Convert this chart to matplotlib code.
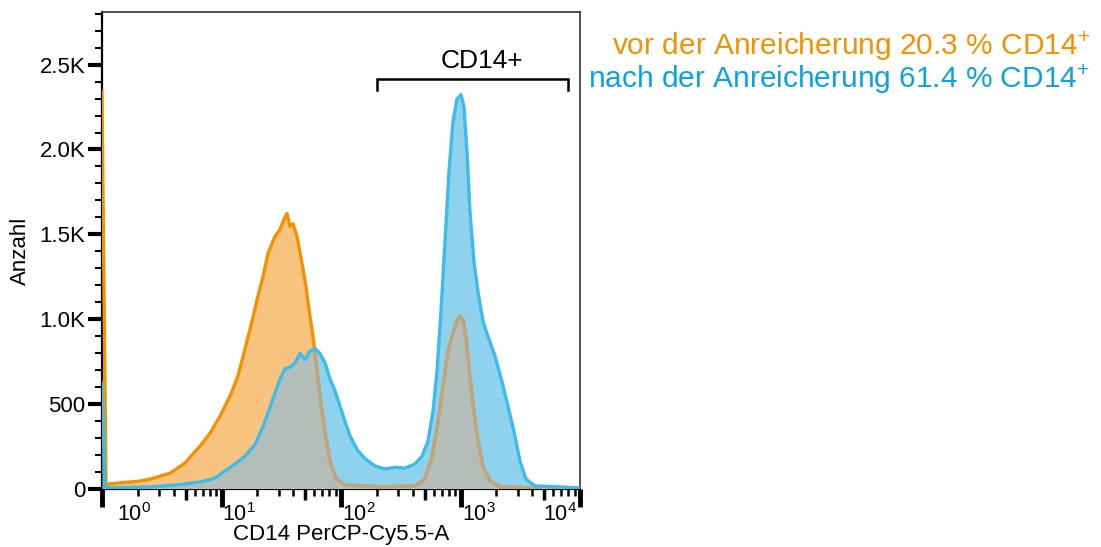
import numpy as np
import matplotlib
matplotlib.use("Agg")
import matplotlib.pyplot as plt
import matplotlib.ticker as mticker
from matplotlib.transforms import ScaledTranslation

plt.rcParams['font.family'] = ['Liberation Sans', 'DejaVu Sans']
plt.rcParams['mathtext.fontset'] = 'custom'
plt.rcParams['mathtext.rm'] = 'Liberation Sans'
plt.rcParams['mathtext.it'] = 'Liberation Sans:italic'
plt.rcParams['mathtext.bf'] = 'Liberation Sans:bold'

# ---------------- data ----------------
before_x = [1.0, 1.08, 1.5, 2.0, 2.52, 3.71, 4.95, 6.61, 8.01, 9.71,
            11.8, 13.7, 15.7, 18.0, 20.2, 22.3, 24.5, 28.0, 30.9, 33.3,
            35.3, 37.4, 39.6, 42.8, 47.2, 50.9, 55.0, 58.3, 61.8, 66.7,
            73.5, 80.9, 90.8, 108, 212, 416, 504, 578, 649, 714,
            786, 849, 917, 990, 1050, 1112, 1200, 1297, 1400, 1542,
            1766, 2143, 4624, 10000]
before_y = [2340, 28, 38, 45, 58, 93, 153, 253, 328, 428,
            548, 663, 823, 988, 1138, 1253, 1388, 1488, 1528, 1588,
            1623, 1548, 1563, 1488, 1328, 1193, 1018, 898, 753, 548,
            338, 163, 63, 23, 13, 18, 58, 193, 398, 608,
            813, 898, 978, 1018, 998, 898, 663, 458, 283, 133,
            48, 13, 5, 5]

after_x = [1.0, 1.06, 1.41, 2.52, 4.08, 6.61, 8.82, 10.7, 13.0, 15.7,
           19.1, 21.8, 24.5, 27.5, 30.9, 34.0, 37.4, 41.2, 45.4, 50.0,
           55.0, 60.6, 66.7, 73.5, 80.9, 89.1, 98.1, 108, 119, 136,
           159, 193, 233, 283, 343, 416, 476, 535, 589, 636,
           687, 742, 801, 865, 935, 1009, 1069, 1133, 1200, 1297,
           1400, 1542, 1698, 1945, 2224, 2496, 2803, 3147, 3533, 4199,
           6807, 10000]
after_y = [625, 8, 8, 12, 23, 41, 64, 106, 148, 193,
           263, 353, 448, 548, 648, 708, 718, 743, 798, 763,
           813, 828, 798, 743, 648, 578, 488, 398, 313, 233,
           178, 135, 118, 128, 123, 148, 193, 283, 458, 693,
           1048, 1458, 1868, 2163, 2298, 2323, 2253, 1988, 1633, 1338,
           1163, 988, 898, 783, 633, 488, 338, 163, 58, 18,
           12, 6]

x_ticks = [1, 10, 100, 1000, 10000]
x_tick_labels = ['$10^{0}$', '$10^{1}$', '$10^{2}$', '$10^{3}$', '$10^{4}$']
x_mid_ticks = [5, 50, 500, 5000]
x_minor_ticks = [m * d for d in [1, 10, 100, 1000] for m in [2, 3, 4, 6, 7, 8, 9]]
y_ticks = [0, 500, 1000, 1500, 2000, 2500]
y_tick_labels = ['0', '500', '1.0K', '1.5K', '2.0K', '2.5K']
gate_range = [200, 8000]
gate_label = 'CD14+'
legend_labels = ['vor der Anreicherung 20.3 % CD14$^{+}$',
                 'nach der Anreicherung 61.4 % CD14$^{+}$']
x_label = 'CD14 PerCP-Cy5.5-A'
y_label = 'Anzahl'

# ---------------- style ----------------
orange_line = '#F39200'
orange_fill = '#F7C480'
blue_line = '#3DBBEA'
blue_fill = '#8FD2EE'
overlap_fill = '#B3BEB9'
tan_line = '#BCA683'
orange_text = '#F39200'
blue_text = '#0FA0E0'

fig = plt.figure(figsize=(11.01, 5.47), dpi=100)
ax = fig.add_axes([102 / 1101, 1 - 489 / 547, 478 / 1101, 477 / 547])

ax.set_xscale('log')
ax.set_xlim(1, 1e4)
ax.set_ylim(0, 2810)

ax.fill_between(before_x, 0, before_y, color=orange_fill, lw=0, zorder=1)
blue_poly = ax.fill_between(after_x, 0, after_y, color=blue_fill, lw=0, zorder=2)
clip_path = blue_poly.get_paths()[0]
ov = ax.fill_between(before_x, 0, before_y, color=overlap_fill, lw=0, zorder=3)
ov.set_clip_path(clip_path, ax.transData)

ax.plot(before_x, before_y, color=orange_line, lw=2.4, zorder=4,
        solid_joinstyle='round')
tan = ax.plot(before_x, before_y, color=tan_line, lw=2.4, zorder=5,
              solid_joinstyle='round')[0]
tan.set_clip_path(clip_path, ax.transData)
ax.plot(after_x, after_y, color=blue_line, lw=2.4, zorder=6,
        solid_joinstyle='round')

# gate bracket
gy_top, gy_bot = 2418, 2353
ax.plot([gate_range[0], gate_range[0], gate_range[1], gate_range[1]],
        [gy_bot, gy_top, gy_top, gy_bot], color='black', lw=1.8,
        zorder=7, solid_joinstyle='miter')
ax.text(np.sqrt(gate_range[0] * gate_range[1]) * 1.2, 2478, gate_label,
        ha='center', va='baseline', fontsize=19, color='black')

# axes ticks
ax.xaxis.set_major_locator(mticker.FixedLocator(x_ticks))
ax.xaxis.set_major_formatter(mticker.FixedFormatter(x_tick_labels))
ax.xaxis.set_minor_locator(mticker.FixedLocator(x_minor_ticks))
ax.xaxis.set_minor_formatter(mticker.NullFormatter())
ax.tick_params(axis='x', which='major', length=13, width=3.5,
               labelsize=15.5, pad=-3, color='black')
ax.tick_params(axis='x', which='minor', length=5, width=1.8, color='black')

offsets_px = [32, 17, 18, 18, -20]
for tick, dx in zip(ax.xaxis.get_major_ticks(), offsets_px):
    tick.label1.set_transform(tick.label1.get_transform() +
                              ScaledTranslation(dx / 100, 0, fig.dpi_scale_trans))

ax.set_yticks(y_ticks)
ax.set_yticklabels(y_tick_labels)
ax.yaxis.set_minor_locator(mticker.MultipleLocator(100))
ax.tick_params(axis='y', which='major', length=10, width=3, labelsize=16,
               pad=2, color='black')
ax.tick_params(axis='y', which='minor', length=5, width=1.5, color='black')

# mid ticks at 5 x 10^n
ax2 = ax.twiny()
ax2.set_xscale('log')
ax2.set_xlim(ax.get_xlim())
ax2.xaxis.tick_bottom()
ax2.xaxis.set_major_locator(mticker.FixedLocator(x_mid_ticks))
ax2.xaxis.set_major_formatter(mticker.NullFormatter())
ax2.xaxis.set_minor_locator(mticker.NullLocator())
ax2.tick_params(axis='x', which='major', length=8, width=2.5, color='black')
for s in ax2.spines.values():
    s.set_visible(False)

for side in ['left', 'bottom']:
    ax.spines[side].set_linewidth(1.6)
    ax.spines[side].set_color('black')
for side in ['top', 'right']:
    ax.spines[side].set_linewidth(1.2)
    ax.spines[side].set_color('#333333')

ax.set_xlabel(x_label, fontsize=16, labelpad=-1)
ax.set_ylabel(y_label, fontsize=16, labelpad=6)

fig.text(1090 / 1101, 1 - 55 / 547, legend_labels[0], ha='right',
         va='baseline', fontsize=21.5, color=orange_text)
fig.text(1090 / 1101, 1 - 88 / 547, legend_labels[1], ha='right',
         va='baseline', fontsize=21.5, color=blue_text)

fig.savefig('out.png', dpi=100)
